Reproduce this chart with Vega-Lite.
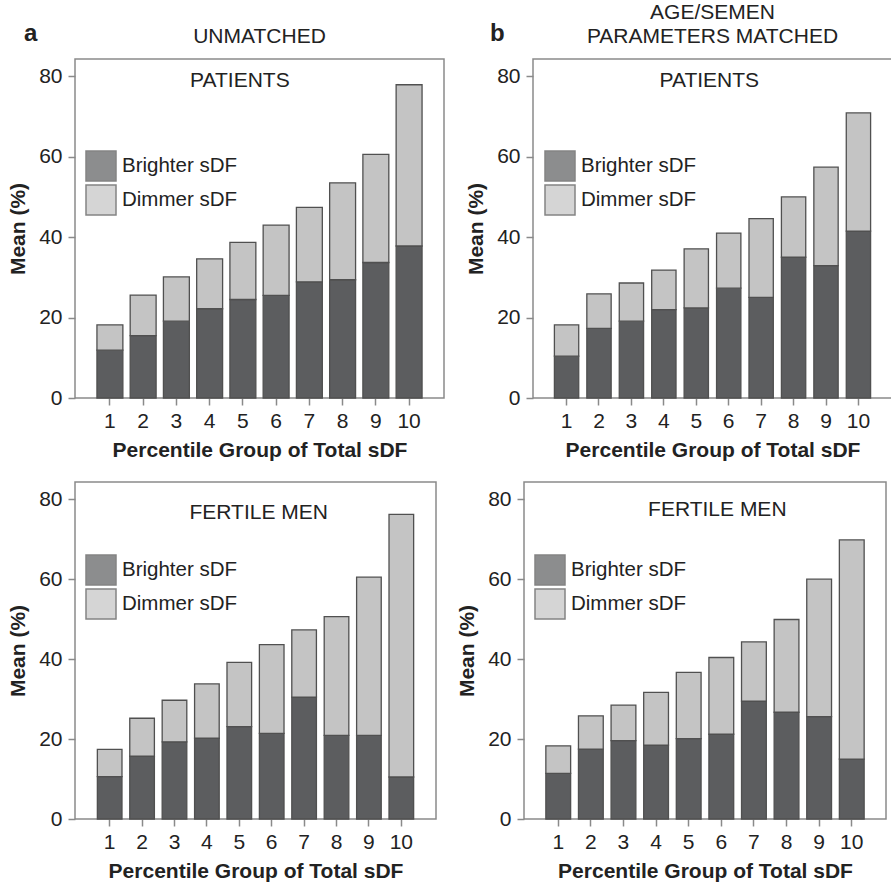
{
  "$schema": "https://vega.github.io/schema/vega-lite/v6.json",
  "background": "white",
  "padding": {"left": 6, "top": 1, "right": 0, "bottom": 0},
  "config": {
    "font": "Liberation Sans",
    "view": {"stroke": "#8a8a8a", "strokeWidth": 1.5},
    "axis": {"labelFont": "Liberation Sans", "labelFontSize": 21, "labelColor": "#222222", "titleFont": "Liberation Sans", "titleFontSize": 21, "titleFontWeight": "bold", "titleColor": "#222222", "domain": false, "grid": false, "tickColor": "#8a8a8a", "tickWidth": 1.5, "tickSize": 7},
    "axisX": {"labelAngle": 0, "labelPadding": 5, "titlePadding": 8},
    "axisY": {"labelPadding": 6, "titlePadding": 10},
    "title": {"font": "Liberation Sans", "fontSize": 21, "fontWeight": "normal", "color": "#222222", "lineHeight": 24, "offset": 12},
    "legend": {"orient": "none", "symbolType": "square", "symbolSize": 900, "symbolOpacity": 0.7, "labelFont": "Liberation Sans", "labelFontSize": 20.5, "labelColor": "#222222", "padding": 0, "rowPadding": -4, "labelOffset": 5, "symbolStrokeWidth": 1.5}
  },
  "datasets": {
    "d": [
      {"panel": "A", "group": 1, "type": "Brighter sDF", "value": 11.9}, {"panel": "A", "group": 1, "type": "Dimmer sDF", "value": 6.3},
      {"panel": "A", "group": 2, "type": "Brighter sDF", "value": 15.5}, {"panel": "A", "group": 2, "type": "Dimmer sDF", "value": 10.1},
      {"panel": "A", "group": 3, "type": "Brighter sDF", "value": 19.1}, {"panel": "A", "group": 3, "type": "Dimmer sDF", "value": 11.0},
      {"panel": "A", "group": 4, "type": "Brighter sDF", "value": 22.2}, {"panel": "A", "group": 4, "type": "Dimmer sDF", "value": 12.4},
      {"panel": "A", "group": 5, "type": "Brighter sDF", "value": 24.5}, {"panel": "A", "group": 5, "type": "Dimmer sDF", "value": 14.2},
      {"panel": "A", "group": 6, "type": "Brighter sDF", "value": 25.5}, {"panel": "A", "group": 6, "type": "Dimmer sDF", "value": 17.5},
      {"panel": "A", "group": 7, "type": "Brighter sDF", "value": 28.9}, {"panel": "A", "group": 7, "type": "Dimmer sDF", "value": 18.5},
      {"panel": "A", "group": 8, "type": "Brighter sDF", "value": 29.4}, {"panel": "A", "group": 8, "type": "Dimmer sDF", "value": 24.1},
      {"panel": "A", "group": 9, "type": "Brighter sDF", "value": 33.7}, {"panel": "A", "group": 9, "type": "Dimmer sDF", "value": 26.9},
      {"panel": "A", "group": 10, "type": "Brighter sDF", "value": 37.8}, {"panel": "A", "group": 10, "type": "Dimmer sDF", "value": 40.1},
      {"panel": "B", "group": 1, "type": "Brighter sDF", "value": 10.4}, {"panel": "B", "group": 1, "type": "Dimmer sDF", "value": 7.8},
      {"panel": "B", "group": 2, "type": "Brighter sDF", "value": 17.3}, {"panel": "B", "group": 2, "type": "Dimmer sDF", "value": 8.6},
      {"panel": "B", "group": 3, "type": "Brighter sDF", "value": 19.1}, {"panel": "B", "group": 3, "type": "Dimmer sDF", "value": 9.5},
      {"panel": "B", "group": 4, "type": "Brighter sDF", "value": 22.0}, {"panel": "B", "group": 4, "type": "Dimmer sDF", "value": 9.8},
      {"panel": "B", "group": 5, "type": "Brighter sDF", "value": 22.4}, {"panel": "B", "group": 5, "type": "Dimmer sDF", "value": 14.7},
      {"panel": "B", "group": 6, "type": "Brighter sDF", "value": 27.3}, {"panel": "B", "group": 6, "type": "Dimmer sDF", "value": 13.7},
      {"panel": "B", "group": 7, "type": "Brighter sDF", "value": 25.0}, {"panel": "B", "group": 7, "type": "Dimmer sDF", "value": 19.6},
      {"panel": "B", "group": 8, "type": "Brighter sDF", "value": 35.0}, {"panel": "B", "group": 8, "type": "Dimmer sDF", "value": 15.0},
      {"panel": "B", "group": 9, "type": "Brighter sDF", "value": 32.9}, {"panel": "B", "group": 9, "type": "Dimmer sDF", "value": 24.5},
      {"panel": "B", "group": 10, "type": "Brighter sDF", "value": 41.5}, {"panel": "B", "group": 10, "type": "Dimmer sDF", "value": 29.4},
      {"panel": "C", "group": 1, "type": "Brighter sDF", "value": 10.6}, {"panel": "C", "group": 1, "type": "Dimmer sDF", "value": 6.8},
      {"panel": "C", "group": 2, "type": "Brighter sDF", "value": 15.7}, {"panel": "C", "group": 2, "type": "Dimmer sDF", "value": 9.5},
      {"panel": "C", "group": 3, "type": "Brighter sDF", "value": 19.3}, {"panel": "C", "group": 3, "type": "Dimmer sDF", "value": 10.4},
      {"panel": "C", "group": 4, "type": "Brighter sDF", "value": 20.2}, {"panel": "C", "group": 4, "type": "Dimmer sDF", "value": 13.6},
      {"panel": "C", "group": 5, "type": "Brighter sDF", "value": 23.1}, {"panel": "C", "group": 5, "type": "Dimmer sDF", "value": 16.1},
      {"panel": "C", "group": 6, "type": "Brighter sDF", "value": 21.4}, {"panel": "C", "group": 6, "type": "Dimmer sDF", "value": 22.2},
      {"panel": "C", "group": 7, "type": "Brighter sDF", "value": 30.5}, {"panel": "C", "group": 7, "type": "Dimmer sDF", "value": 16.8},
      {"panel": "C", "group": 8, "type": "Brighter sDF", "value": 20.9}, {"panel": "C", "group": 8, "type": "Dimmer sDF", "value": 29.7},
      {"panel": "C", "group": 9, "type": "Brighter sDF", "value": 20.9}, {"panel": "C", "group": 9, "type": "Dimmer sDF", "value": 39.6},
      {"panel": "C", "group": 10, "type": "Brighter sDF", "value": 10.5}, {"panel": "C", "group": 10, "type": "Dimmer sDF", "value": 65.7},
      {"panel": "D", "group": 1, "type": "Brighter sDF", "value": 11.4}, {"panel": "D", "group": 1, "type": "Dimmer sDF", "value": 6.9},
      {"panel": "D", "group": 2, "type": "Brighter sDF", "value": 17.5}, {"panel": "D", "group": 2, "type": "Dimmer sDF", "value": 8.3},
      {"panel": "D", "group": 3, "type": "Brighter sDF", "value": 19.6}, {"panel": "D", "group": 3, "type": "Dimmer sDF", "value": 8.9},
      {"panel": "D", "group": 4, "type": "Brighter sDF", "value": 18.5}, {"panel": "D", "group": 4, "type": "Dimmer sDF", "value": 13.2},
      {"panel": "D", "group": 5, "type": "Brighter sDF", "value": 20.1}, {"panel": "D", "group": 5, "type": "Dimmer sDF", "value": 16.6},
      {"panel": "D", "group": 6, "type": "Brighter sDF", "value": 21.2}, {"panel": "D", "group": 6, "type": "Dimmer sDF", "value": 19.2},
      {"panel": "D", "group": 7, "type": "Brighter sDF", "value": 29.5}, {"panel": "D", "group": 7, "type": "Dimmer sDF", "value": 14.8},
      {"panel": "D", "group": 8, "type": "Brighter sDF", "value": 26.7}, {"panel": "D", "group": 8, "type": "Dimmer sDF", "value": 23.2},
      {"panel": "D", "group": 9, "type": "Brighter sDF", "value": 25.6}, {"panel": "D", "group": 9, "type": "Dimmer sDF", "value": 34.4},
      {"panel": "D", "group": 10, "type": "Brighter sDF", "value": 15.0}, {"panel": "D", "group": 10, "type": "Dimmer sDF", "value": 54.8}
    ]
  },
  "spacing": 20,
  "resolve": {"scale": {"color": "independent"}},
  "vconcat": [
    {
      "spacing": 19,
      "resolve": {"scale": {"color": "independent"}},
      "hconcat": [
        {
          "title": {"text": "a", "anchor": "start", "frame": "bounds", "fontSize": 24, "fontWeight": "bold", "dx": 17, "dy": 45, "offset": 0},
          "resolve": {"scale": {"color": "independent"}},
          "vconcat": [
            {
              "width": 369, "height": 339,
              "title": {"text": ["", "UNMATCHED"]},
              "layer": [
                {"data": {"name": "d"}, "transform": [{"filter": "datum.panel === 'A'"}],
                 "mark": {"type": "bar", "stroke": "#505050", "strokeWidth": 1.3},
                 "encoding": {
                   "x": {"field": "group", "type": "ordinal", "scale": {"paddingInner": 0.22, "paddingOuter": 0.66}, "axis": {"title": "Percentile Group of Total sDF"}},
                   "y": {"field": "value", "type": "quantitative", "stack": "zero", "scale": {"domain": [0, 84.3], "nice": false}, "axis": {"title": "Mean (%)", "values": [0, 20, 40, 60, 80]}},
                   "order": {"field": "type", "sort": "ascending"},
                   "color": {"field": "type", "type": "nominal", "scale": {"domain": ["Brighter sDF", "Dimmer sDF"], "range": ["#5c5d5f", "#c4c4c4"]},
                     "legend": {"title": null, "legendX": 10, "legendY": 91}}
                 }},
                {"data": {"values": [{"label": "PATIENTS"}]},
                 "mark": {"type": "text", "fontSize": 21, "color": "#222222", "dx": -3},
                 "encoding": {"x": {"datum": 5, "type": "ordinal"}, "y": {"datum": 78.9, "type": "quantitative"}, "text": {"field": "label"}}}
              ]
            }
          ]
        },
        {
          "title": {"text": "b", "anchor": "start", "frame": "bounds", "fontSize": 24, "fontWeight": "bold", "dx": 25, "dy": 45, "offset": 0},
          "resolve": {"scale": {"color": "independent"}},
          "vconcat": [
            {
              "width": 359, "height": 339,
              "title": {"text": ["AGE/SEMEN", "PARAMETERS MATCHED"]},
              "layer": [
                {"data": {"name": "d"}, "transform": [{"filter": "datum.panel === 'B'"}],
                 "mark": {"type": "bar", "stroke": "#505050", "strokeWidth": 1.3},
                 "encoding": {
                   "x": {"field": "group", "type": "ordinal", "scale": {"paddingInner": 0.25, "paddingOuter": 0.66}, "axis": {"title": "Percentile Group of Total sDF"}},
                   "y": {"field": "value", "type": "quantitative", "stack": "zero", "scale": {"domain": [0, 84.3], "nice": false}, "axis": {"title": "Mean (%)", "values": [0, 20, 40, 60, 80]}},
                   "order": {"field": "type", "sort": "ascending"},
                   "color": {"field": "type", "type": "nominal", "scale": {"domain": ["Brighter sDF", "Dimmer sDF"], "range": ["#5c5d5f", "#c4c4c4"]},
                     "legend": {"title": null, "legendX": 11, "legendY": 91}}
                 }},
                {"data": {"values": [{"label": "PATIENTS"}]},
                 "mark": {"type": "text", "fontSize": 21, "color": "#222222", "dx": 13},
                 "encoding": {"x": {"datum": 5, "type": "ordinal"}, "y": {"datum": 78.8, "type": "quantitative"}, "text": {"field": "label"}}}
              ]
            }
          ]
        }
      ]
    },
    {
      "spacing": 18,
      "resolve": {"scale": {"color": "independent"}},
      "hconcat": [
        {
          "width": 361, "height": 337,
          "layer": [
            {"data": {"name": "d"}, "transform": [{"filter": "datum.panel === 'C'"}],
             "mark": {"type": "bar", "stroke": "#505050", "strokeWidth": 1.3},
             "encoding": {
               "x": {"field": "group", "type": "ordinal", "scale": {"paddingInner": 0.24, "paddingOuter": 0.69}, "axis": {"title": "Percentile Group of Total sDF"}},
               "y": {"field": "value", "type": "quantitative", "stack": "zero", "scale": {"domain": [0, 84.3], "nice": false}, "axis": {"title": "Mean (%)", "values": [0, 20, 40, 60, 80]}},
               "order": {"field": "type", "sort": "ascending"},
               "color": {"field": "type", "type": "nominal", "scale": {"domain": ["Brighter sDF", "Dimmer sDF"], "range": ["#5c5d5f", "#c4c4c4"]},
                 "legend": {"title": null, "legendX": 10, "legendY": 72}}
             }},
            {"data": {"values": [{"label": "FERTILE MEN"}]},
             "mark": {"type": "text", "fontSize": 21, "color": "#222222", "dx": -13},
             "encoding": {"x": {"datum": 6, "type": "ordinal"}, "y": {"datum": 76.5, "type": "quantitative"}, "text": {"field": "label"}}}
          ]
        },
        {
          "width": 362, "height": 337,
          "layer": [
            {"data": {"name": "d"}, "transform": [{"filter": "datum.panel === 'D'"}],
             "mark": {"type": "bar", "stroke": "#505050", "strokeWidth": 1.3},
             "encoding": {
               "x": {"field": "group", "type": "ordinal", "scale": {"paddingInner": 0.24, "paddingOuter": 0.67}, "axis": {"title": "Percentile Group of Total sDF"}},
               "y": {"field": "value", "type": "quantitative", "stack": "zero", "scale": {"domain": [0, 84.3], "nice": false}, "axis": {"title": "Mean (%)", "values": [0, 20, 40, 60, 80]}},
               "order": {"field": "type", "sort": "ascending"},
               "color": {"field": "type", "type": "nominal", "scale": {"domain": ["Brighter sDF", "Dimmer sDF"], "range": ["#5c5d5f", "#c4c4c4"]},
                 "legend": {"title": null, "legendX": 10, "legendY": 72}}
             }},
            {"data": {"values": [{"label": "FERTILE MEN"}]},
             "mark": {"type": "text", "fontSize": 21, "color": "#222222", "dx": -4},
             "encoding": {"x": {"datum": 6, "type": "ordinal"}, "y": {"datum": 77.2, "type": "quantitative"}, "text": {"field": "label"}}}
          ]
        }
      ]
    }
  ]
}
